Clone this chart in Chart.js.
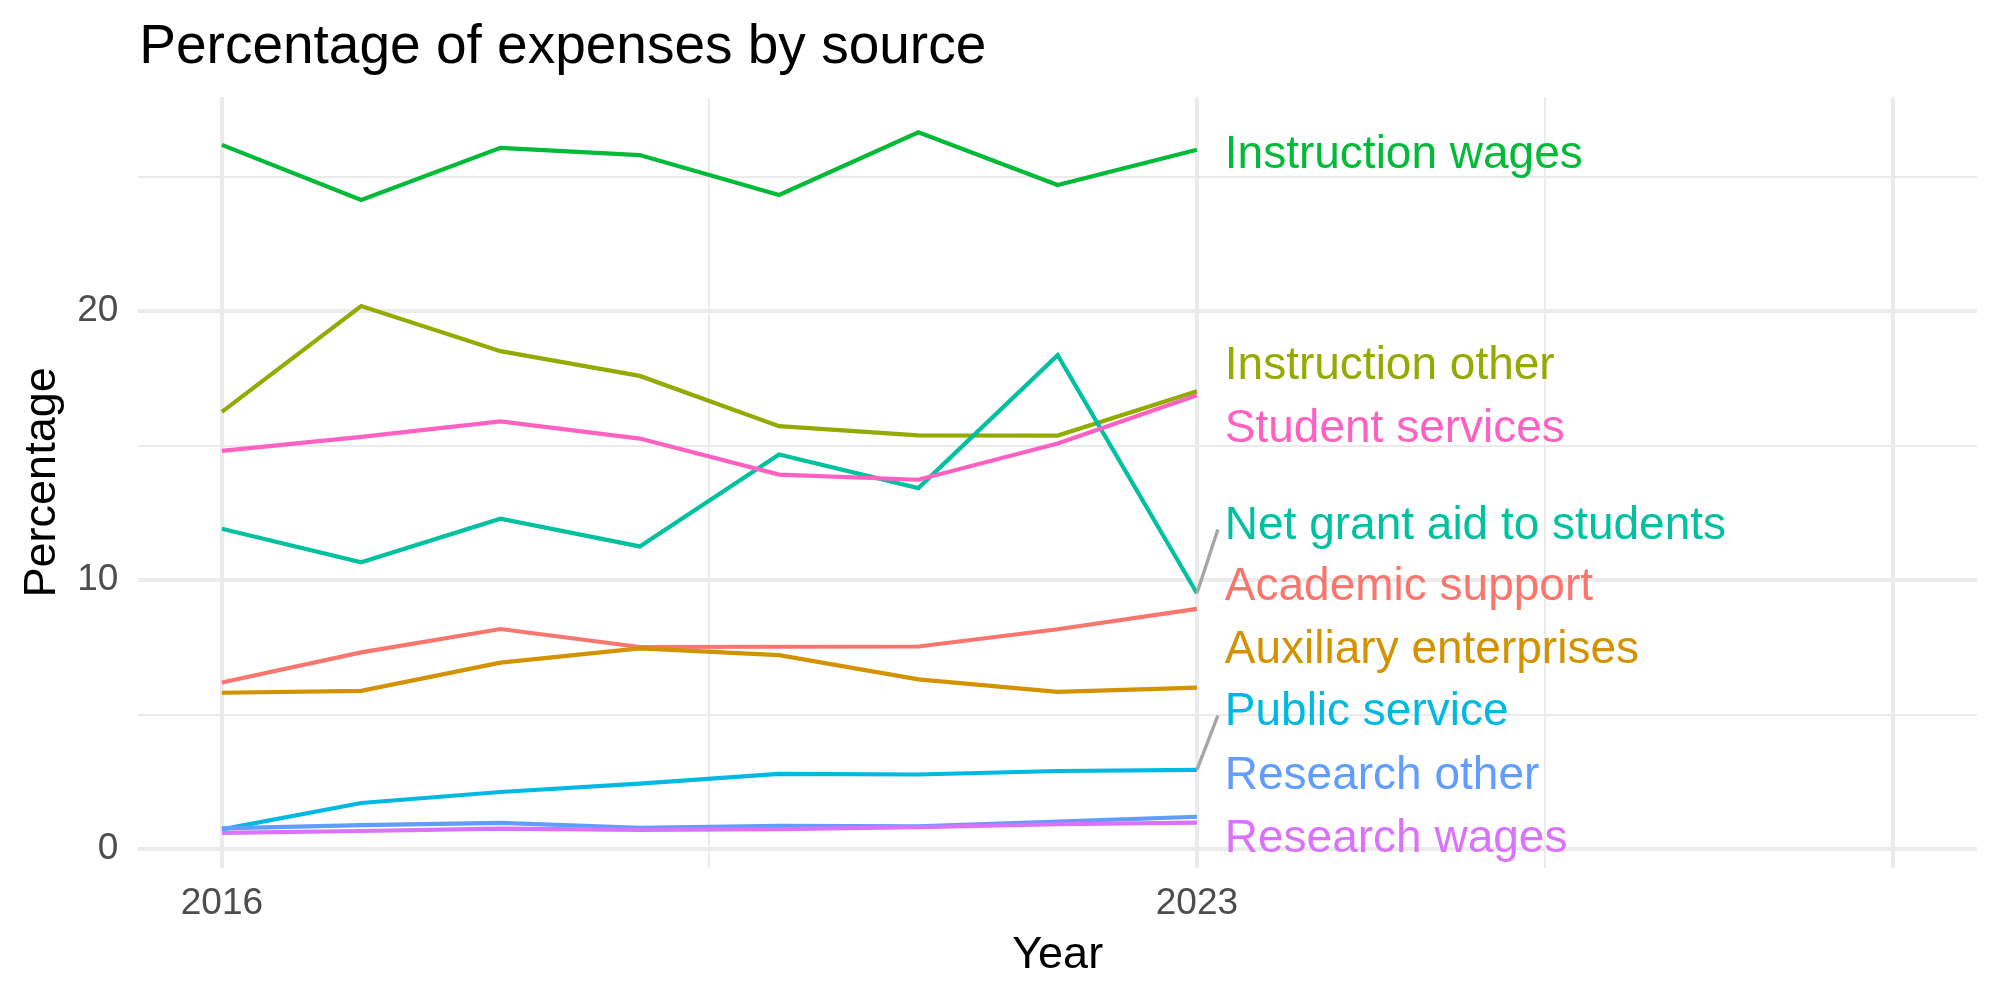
<!DOCTYPE html>
<html>
<head>
<meta charset="utf-8">
<title>Percentage of expenses by source</title>
<script src="https://cdn.jsdelivr.net/npm/chart.js@4.4.1/dist/chart.umd.min.js"></script>
<style>
  html, body { margin: 0; padding: 0; background: #ffffff; }
  #wrap { width: 2000px; height: 1000px; }
</style>
</head>
<body>
<div id="wrap"><canvas id="expenseChart" width="2000" height="1000"></canvas></div>
<script>
// ------------------------------------------------------------
// data
// ------------------------------------------------------------
const years = [2016, 2017, 2018, 2019, 2020, 2021, 2022, 2023];

const seriesNames = [
  'Academic support', 'Auxiliary enterprises', 'Instruction other',
  'Instruction wages', 'Net grant aid to students', 'Public service',
  'Research other', 'Research wages', 'Student services'
];
const seriesColors = [
  '#F8766D', '#D39200', '#93AA00', '#00BA38', '#00C19F',
  '#00B9E3', '#619CFF', '#DB72FB', '#FF61C3'
];

const academicSupport   = [6.19, 7.31, 8.18, 7.51, 7.52, 7.53, 8.17, 8.93];
const auxiliaryEnterp   = [5.81, 5.88, 6.93, 7.46, 7.21, 6.31, 5.84, 6.00];
const instructionOther  = [16.25, 20.19, 18.51, 17.59, 15.72, 15.38, 15.37, 17.02];
const instructionWages  = [26.18, 24.13, 26.07, 25.80, 24.32, 26.65, 24.69, 26.00];
const netGrantAid       = [11.91, 10.66, 12.28, 11.25, 14.67, 13.42, 18.36, 9.51];
const publicService     = [0.73, 1.71, 2.12, 2.43, 2.79, 2.77, 2.90, 2.94];
const researchOther     = [0.77, 0.89, 0.97, 0.79, 0.86, 0.84, 1.02, 1.20];
const researchWages     = [0.60, 0.67, 0.76, 0.71, 0.74, 0.81, 0.92, 0.98];
const studentServices   = [14.80, 15.32, 15.90, 15.26, 13.92, 13.73, 15.08, 16.87];

const seriesValues = [
  academicSupport, auxiliaryEnterp, instructionOther, instructionWages,
  netGrantAid, publicService, researchOther, researchWages, studentServices
];

// repelled label positions (data units), same order as seriesNames
const labelX = 2023.2;
const labelY = [9.88, 7.52, 18.07, 25.94, 12.13, 5.21, 2.86, 0.51, 15.74];

// axes
const xTicks = [2016, 2019.5, 2023, 2025.5, 2028];
const xTickLabels = ['2016', '', '2023', '', ''];
const xMajor = [true, false, true, false, true];
const yTicks = [0, 5, 10, 15, 20, 25];
const yTickLabels = ['0', '', '10', '', '20', ''];
const yMajor = [true, false, true, false, true, false];

const FONT = "'Liberation Sans', Arial, Helvetica, sans-serif";
const GRID = '#EBEBEB';

// ------------------------------------------------------------
// text labels, repel segments, titles
// ------------------------------------------------------------
const annotatePlugin = {
  id: 'annotate',
  afterDatasetsDraw(chart) {
    const { ctx, scales: { x, y } } = chart;
    const labelSize = 46;
    ctx.save();
    // segments for labels pushed far from their line end
    ctx.strokeStyle = '#A6A6A6';
    ctx.lineWidth = 3.4;
    seriesNames.forEach((name, i) => {
      const last = seriesValues[i][seriesValues[i].length - 1];
      if (Math.abs(labelY[i] - last) < 2) return;
      ctx.beginPath();
      ctx.moveTo(x.getPixelForValue(years[years.length - 1]), y.getPixelForValue(last));
      ctx.lineTo(x.getPixelForValue(labelX - 0.05), y.getPixelForValue(labelY[i] - 0.25));
      ctx.stroke();
    });
    // labels
    ctx.font = `${labelSize}px ${FONT}`;
    ctx.textAlign = 'left';
    ctx.textBaseline = 'alphabetic';
    seriesNames.forEach((name, i) => {
      ctx.fillStyle = seriesColors[i];
      ctx.fillText(name, x.getPixelForValue(labelX), y.getPixelForValue(labelY[i]) + labelSize * 0.358);
    });
    ctx.restore();
  },
  afterDraw(chart) {
    const { ctx, chartArea } = chart;
    ctx.save();
    ctx.fillStyle = '#000000';
    ctx.textBaseline = 'alphabetic';
    // title
    ctx.font = `55px ${FONT}`;
    ctx.textAlign = 'left';
    ctx.fillText('Percentage of expenses by source', chartArea.left + 1, 63);
    // x title
    ctx.font = `45px ${FONT}`;
    ctx.textAlign = 'center';
    ctx.fillText('Year', (chartArea.left + chartArea.right) / 2, 968);
    // y title
    ctx.translate(55, (chartArea.top + chartArea.bottom) / 2);
    ctx.rotate(-Math.PI / 2);
    ctx.fillText('Percentage', 0, 0);
    ctx.restore();
  }
};

// ------------------------------------------------------------
// chart
// ------------------------------------------------------------
const datasets = seriesNames.map((name, i) => ({
  label: name,
  data: years.map((yr, j) => ({ x: yr, y: seriesValues[i][j] })),
  borderColor: seriesColors[i],
  backgroundColor: seriesColors[i],
  borderWidth: 4.2,
  pointRadius: 0,
  tension: 0,
  fill: false,
  order: seriesNames.length - 1 - i
}));

new Chart(document.getElementById('expenseChart'), {
  type: 'line',
  data: { datasets },
  options: {
    responsive: false,
    devicePixelRatio: 1,
    animation: false,
    layout: { padding: { top: 97, right: 23, bottom: 0, left: 0 } },
    scales: {
      x: {
        type: 'linear',
        min: 2015.4,
        max: 2028.6,
        afterBuildTicks: (scale) => { scale.ticks = xTicks.map(v => ({ value: v })); },
        afterFit: (scale) => { scale.height = 132.3; },
        border: { display: false },
        grid: {
          color: GRID,
          drawTicks: false,
          lineWidth: (c) => (xMajor[xTicks.indexOf(c.tick && c.tick.value)] ? 4 : 2)
        },
        ticks: {
          autoSkip: false,
          maxRotation: 0,
          padding: 14,
          color: '#4D4D4D',
          font: { family: FONT, size: 37 },
          callback: (value, index) => xTickLabels[index]
        }
      },
      y: {
        type: 'linear',
        min: -0.695,
        max: 27.96,
        afterBuildTicks: (scale) => { scale.ticks = yTicks.map(v => ({ value: v })); },
        afterFit: (scale) => { scale.width = 138.3; },
        border: { display: false },
        grid: {
          color: GRID,
          drawTicks: false,
          lineWidth: (c) => (yMajor[yTicks.indexOf(c.tick && c.tick.value)] ? 4 : 2)
        },
        ticks: {
          autoSkip: false,
          padding: 20,
          color: '#4D4D4D',
          font: { family: FONT, size: 37 },
          callback: (value, index) => yTickLabels[index]
        }
      }
    },
    plugins: {
      legend: { display: false },
      title: { display: false },
      tooltip: { enabled: false }
    }
  },
  plugins: [annotatePlugin]
});
</script>
</body>
</html>
